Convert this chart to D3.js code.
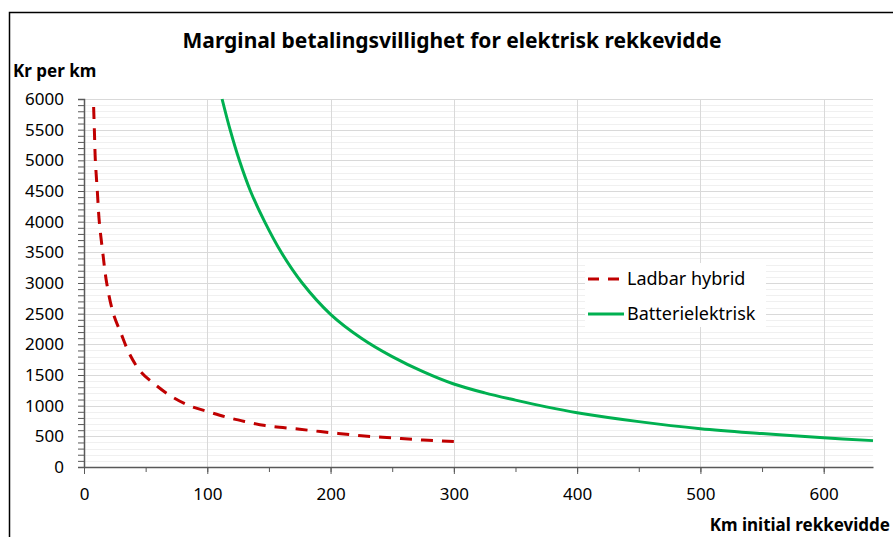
<html>
  <head>
    <meta charset="utf-8" />
    <style>
      body { margin: 0; background: #fff; }
      text { font-family: "Noto Sans", sans-serif; fill: #000; }
    </style>
  </head>
  <body>
    <script src="https://d3js.org/d3.v7.min.js"></script>
    <script>
      // DATA
      const hybridKm = [7.6, 8.4, 9.2, 10.8, 12.4, 15.2, 18.4, 23.8, 30, 37, 46, 58, 71, 86, 101, 116, 131, 147, 175, 200, 225, 250, 275, 300];
      const hybridKr = [6000, 5500, 5000, 4500, 4000, 3500, 3000, 2500, 2180, 1840, 1555, 1340, 1150, 995, 900, 810, 740, 675, 615, 560, 510, 475, 440, 415];

      const bevKm = [112, 118.5, 126, 135, 146.5, 160, 177, 200, 225, 250, 275, 300, 325, 350, 375, 400, 450, 500, 550, 600, 640];
      const bevKr = [6000, 5500, 5000, 4500, 4000, 3500, 3000, 2490, 2100, 1800, 1555, 1353, 1208, 1090, 980, 885, 740, 625, 545, 475, 430];

      const seriesNames = ["Ladbar hybrid", "Batterielektrisk"];
      const xTicks = [0, 100, 200, 300, 400, 500, 600];
      const yTicks = d3.range(0, 6001, 500);
      const yMinor = d3.range(0, 6001, 100);
      const xMinor = d3.range(0, 641, 50);

      const W = 893, H = 537;
      const plotLeft = 84, plotRight = 873, plotTop = 99, plotBottom = 467;

      const svg = d3.select("body").append("svg").attr("width", W).attr("height", H);

      // outer chart border (top + left visible)
      svg.append("path")
        .attr("d", `M9.5,${H} V12.5 H${W}`)
        .attr("fill", "none")
        .attr("stroke", "#000")
        .attr("stroke-width", 1.5);

      const x = d3.scaleLinear().domain([0, 640]).range([plotLeft, plotRight]);
      const y = d3.scaleLinear().domain([0, 6000]).range([plotBottom, plotTop]);

      // GRID
      const grid = svg.append("g");
      grid.selectAll("line.minor")
        .data(yMinor.filter((d) => d % 500 !== 0))
        .enter().append("line")
        .attr("x1", plotLeft).attr("x2", plotRight)
        .attr("y1", (d) => Math.round(y(d)) + 0.5).attr("y2", (d) => Math.round(y(d)) + 0.5)
        .attr("stroke", "#f0f0f0");
      grid.selectAll("line.major")
        .data(yTicks.filter((d) => d > 0))
        .enter().append("line")
        .attr("x1", plotLeft).attr("x2", plotRight)
        .attr("y1", (d) => Math.round(y(d)) + 0.5).attr("y2", (d) => Math.round(y(d)) + 0.5)
        .attr("stroke", "#d9d9d9");
      grid.selectAll("line.vert")
        .data(xTicks.filter((d) => d > 0))
        .enter().append("line")
        .attr("x1", (d) => Math.round(x(d)) + 0.5).attr("x2", (d) => Math.round(x(d)) + 0.5)
        .attr("y1", plotTop).attr("y2", plotBottom)
        .attr("stroke", "#d9d9d9");

      // AXES
      const yAxis = d3.axisLeft(y).tickValues(yMinor).tickSize(6).tickFormat("");
      svg.append("g")
        .attr("class", "y-axis")
        .attr("transform", `translate(${plotLeft},0)`)
        .call(yAxis)
        .call((g) => g.select(".domain").attr("stroke", "#595959").attr("stroke-width", 1.5))
        .call((g) => g.selectAll(".tick line").attr("stroke", "#595959"));

      svg.append("g")
        .attr("class", "y-labels")
        .selectAll("text")
        .data(yTicks)
        .enter().append("text")
        .attr("x", 64)
        .attr("y", (d) => y(d))
        .attr("dy", "0.36em")
        .attr("text-anchor", "end")
        .style("font-size", "17px")
        .text((d) => d);

      const xAxisMinor = d3.axisBottom(x).tickValues(xMinor).tickSize(5).tickFormat("");
      svg.append("g")
        .attr("transform", `translate(0,${plotBottom})`)
        .call(xAxisMinor)
        .call((g) => g.select(".domain").remove())
        .call((g) => g.selectAll(".tick line").attr("stroke", "#595959"));

      const xAxis = d3.axisBottom(x).tickValues(xTicks).tickSize(7).tickPadding(14).tickSizeOuter(0);
      svg.append("g")
        .attr("class", "x-axis")
        .attr("transform", `translate(0,${plotBottom})`)
        .call(xAxis)
        .call((g) => g.select(".domain").attr("stroke", "#595959").attr("stroke-width", 1.5))
        .call((g) => g.selectAll(".tick line").attr("stroke", "#595959"))
        .call((g) => g.selectAll(".tick text").style("font-size", "17px").style("font-family", "Noto Sans").attr("fill", "#000"));

      // LINES
      const line = d3.line()
        .x((d) => x(d[0]))
        .y((d) => y(d[1]))
        .curve(d3.curveCatmullRom.alpha(0.5));

      const hybrid = hybridKm.map((d, i) => [d, hybridKr[i]]);
      const bev = bevKm.map((d, i) => [d, bevKr[i]]);

      svg.append("path")
        .datum(bev)
        .attr("d", line)
        .attr("fill", "none")
        .attr("stroke", "#00b050")
        .attr("stroke-width", 3);

      const hybridPath = svg.append("path")
        .datum(hybrid)
        .attr("d", line)
        .attr("fill", "none")
        .attr("stroke", "#c00000")
        .attr("stroke-width", 3)
        .attr("stroke-dasharray", "12,9");
      // shift the dash pattern so the line finishes with a full dash at 300 km
      const len = hybridPath.node().getTotalLength();
      hybridPath.attr("stroke-dashoffset", 21 - (len % 21) + 12);

      // LEGEND
      const legend = svg.append("g").attr("transform", "translate(585,263)");
      legend.append("rect").attr("width", 181).attr("height", 64).attr("fill", "#fff");
      const legendItems = [
        { name: seriesNames[0], color: "#c00000", dash: "11,9" },
        { name: seriesNames[1], color: "#00b050", dash: null },
      ];
      legendItems.forEach((d, i) => {
        const ly = 16 + i * 35;
        legend.append("line")
          .attr("x1", 3).attr("x2", 39)
          .attr("y1", ly).attr("y2", ly)
          .attr("stroke", d.color)
          .attr("stroke-width", 3)
          .attr("stroke-dasharray", d.dash);
        legend.append("text")
          .attr("x", 42)
          .attr("y", ly)
          .attr("dy", "0.36em")
          .style("font-size", "18px")
          .text(d.name);
      });

      // TITLES
      svg.append("text")
        .attr("x", 452)
        .attr("y", 48)
        .attr("text-anchor", "middle")
        .style("font-size", "21px")
        .style("font-weight", "bold")
        .text("Marginal betalingsvillighet for elektrisk rekkevidde");

      svg.append("text")
        .attr("x", 13)
        .attr("y", 77)
        .style("font-size", "17px")
        .style("font-weight", "bold")
        .text("Kr per km");

      svg.append("text")
        .attr("x", 890)
        .attr("y", 531)
        .attr("text-anchor", "end")
        .style("font-size", "17px")
        .style("font-weight", "bold")
        .text("Km initial rekkevidde");
    </script>
  </body>
</html>
